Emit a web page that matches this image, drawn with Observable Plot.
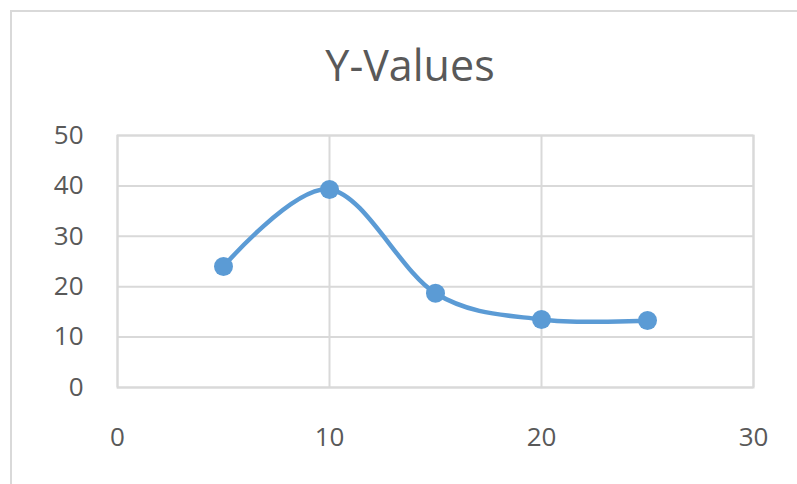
<!DOCTYPE html>
<html>
<head>
<meta charset="utf-8">
<script src="https://cdn.jsdelivr.net/npm/d3@7"></script>
<script src="https://cdn.jsdelivr.net/npm/@observablehq/plot@0.6"></script>
<style>
  html, body { margin: 0; padding: 0; background: #fff; }
  #wrap { position: relative; width: 797px; height: 484px; overflow: hidden; font-family: "Open Sans", sans-serif; }
  #border { position: absolute; left: 10px; top: 10px; width: 820px; height: 500px; border-top: 2px solid #d9d9d9; border-left: 2px solid #d9d9d9; box-sizing: border-box; }
  #title { position: absolute; left: 0; top: 0; width: 820px; height: 100px; text-align: center; font-size: 43px; line-height: 42px; padding-top: 44px; box-sizing: border-box; color: #595959; }
  #chart { position: absolute; left: 0; top: 100px; }
</style>
</head>
<body>
<div id="wrap">
  <div id="border"></div>
  <div id="title"></div>
  <div id="chart"></div>
</div>
<script>
const titleText = "Y-Values";
const xValues = [5, 10, 15, 20, 25];
const yValues = [24, 39.3, 18.7, 13.5, 13.3];
const xTicks = [0, 10, 20, 30];
const yTicks = [0, 10, 20, 30, 40, 50];

document.getElementById("title").textContent = titleText;

const data = xValues.map((x, i) => ({x, y: yValues[i]}));
const gridColor = "#d9d9d9";
const blue = "#5b9bd5";

const chart = Plot.plot({
  width: 797,
  height: 384,
  marginLeft: 117,
  marginRight: 44,
  marginTop: 35,
  marginBottom: 97,
  style: {fontFamily: "'Open Sans', sans-serif", background: "transparent", overflow: "visible"},
  x: {domain: [0, 30]},
  y: {domain: [0, 50]},
  marks: [
    Plot.gridY(yTicks, {stroke: gridColor, strokeOpacity: 1, strokeWidth: 2}),
    Plot.gridX(xTicks, {stroke: gridColor, strokeOpacity: 1, strokeWidth: 2}),
    Plot.frame({stroke: gridColor, strokeWidth: 2}),
    Plot.axisY(yTicks, {tickSize: 0, tickPadding: 34, fontSize: 26, fill: "#595959", label: null}),
    Plot.axisX(xTicks, {tickSize: 0, tickPadding: 40, fontSize: 26, fill: "#595959", label: null}),
    Plot.line(data, {x: "x", y: "y", curve: "cardinal", tension: 0, stroke: blue, strokeWidth: 4.5}),
    Plot.dot(data, {x: "x", y: "y", r: 9.5, fill: blue, stroke: null})
  ]
});
document.getElementById("chart").appendChild(chart);
</script>
</body>
</html>
